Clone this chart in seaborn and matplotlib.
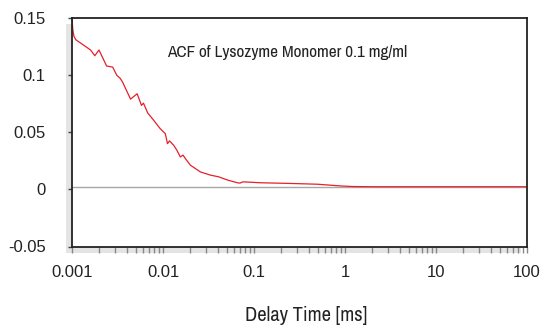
import numpy as np
import pandas as pd
import matplotlib
matplotlib.use("Agg")
import matplotlib.pyplot as plt
from matplotlib import font_manager
from matplotlib.patches import Rectangle
from matplotlib.ticker import LogLocator, FixedLocator, FixedFormatter, NullFormatter
import seaborn as sns

# ---- data ----
delay_ms = [0.001, 0.00102, 0.00105, 0.0011, 0.0013, 0.0016, 0.00178, 0.00198,
            0.0024, 0.0028, 0.0031, 0.0034, 0.0036, 0.0044, 0.0052, 0.0058,
            0.0061, 0.0068, 0.0079, 0.0093, 0.0106, 0.0112, 0.0118, 0.0131,
            0.0142, 0.0155, 0.0166, 0.0176, 0.0200, 0.0257, 0.0331, 0.0408,
            0.0520, 0.0656, 0.0700, 0.0758, 0.1175, 0.25, 0.5, 0.9, 1.2, 2.0,
            10.0, 100.0]
acf = [0.150, 0.140, 0.134, 0.131, 0.127, 0.122, 0.117, 0.122,
       0.108, 0.107, 0.100, 0.097, 0.0938, 0.079, 0.0837, 0.0735,
       0.0755, 0.0668, 0.0605, 0.0532, 0.0488, 0.040, 0.0424, 0.0386,
       0.0343, 0.0284, 0.030, 0.027, 0.0212, 0.0153, 0.0125, 0.011,
       0.0080, 0.0058, 0.0055, 0.0066, 0.0058, 0.0052, 0.0045, 0.0030, 0.0025, 0.0023,
       0.0023, 0.0023]
baseline = 0.0023
x_ticks = [0.001, 0.01, 0.1, 1, 10, 100]
x_tick_labels = ["0.001", "0.01", "0.1", "1", "10", "100"]
y_ticks = [-0.05, 0, 0.05, 0.1, 0.15]
y_tick_labels = ["-0.05", "0", "0.05", "0.1", "0.15"]
title_text = "ACF of Lysozyme Monomer 0.1 mg/ml"
x_label = "Delay Time [ms]"

sns.set_style("white")
names = sorted({f.name for f in font_manager.fontManager.ttflist})
narrow = [n for n in names if ("Narrow" in n or "Condensed" in n)]
narrow_fam = ([narrow[0]] if narrow else ["Liberation Sans"]) + ["DejaVu Sans"]
tick_fam = ["Liberation Sans", "DejaVu Sans"]
plt.rcParams["font.family"] = tick_fam

df = pd.DataFrame({"delay": delay_ms, "acf": acf})

fig = plt.figure(figsize=(5.43, 3.26), dpi=100)
W, H = 543, 326
ax = fig.add_axes([72 / W, 1 - 246.5 / H, (527 - 72) / W, (246.5 - 18) / H])

# drop shadow behind axes
fig.patches.append(Rectangle((66 / W, 1 - 253 / H), (521 - 66) / W, (253 - 24) / H,
                             transform=fig.transFigure, facecolor="#e4e4e4",
                             edgecolor="none", zorder=-1))

ax.axhline(baseline, color="#a8a8a8", lw=1.0, zorder=1)
sns.lineplot(data=df, x="delay", y="acf", ax=ax, color="#e5202a", lw=0.9,
             estimator=None, sort=False, zorder=2)

ax.set_xscale("log")
ax.set_xlim(0.001, 100)
ax.set_ylim(-0.05, 0.15)

ax.xaxis.set_major_locator(FixedLocator(x_ticks))
ax.xaxis.set_major_formatter(FixedFormatter(x_tick_labels))
ax.xaxis.set_minor_locator(LogLocator(base=10, subs=np.arange(2, 10)))
ax.xaxis.set_minor_formatter(NullFormatter())
ax.yaxis.set_major_locator(FixedLocator(y_ticks))
ax.yaxis.set_major_formatter(FixedFormatter(y_tick_labels))

ax.tick_params(axis="x", which="both", direction="out", length=4, width=1,
               color="#888888", labelsize=12, pad=9, labelcolor="#222222", bottom=True)
ax.tick_params(axis="y", which="major", direction="out", length=3, width=1,
               color="#444444", labelsize=12, pad=16, labelcolor="#222222", left=True)

for s in ax.spines.values():
    s.set_visible(True)
    s.set_color("#222222")
    s.set_linewidth(1.3)

ax.set_xlabel(x_label, fontsize=14.8, labelpad=19, color="#222222", family=narrow_fam)
ax.xaxis.label.set_x(0.515)
ax.set_ylabel("")
ax.text(0.209, 0.851, title_text, transform=ax.transAxes, fontsize=12.4,
        ha="left", va="center", color="#222222", family=narrow_fam)

fig.savefig("out.png", dpi=100)
